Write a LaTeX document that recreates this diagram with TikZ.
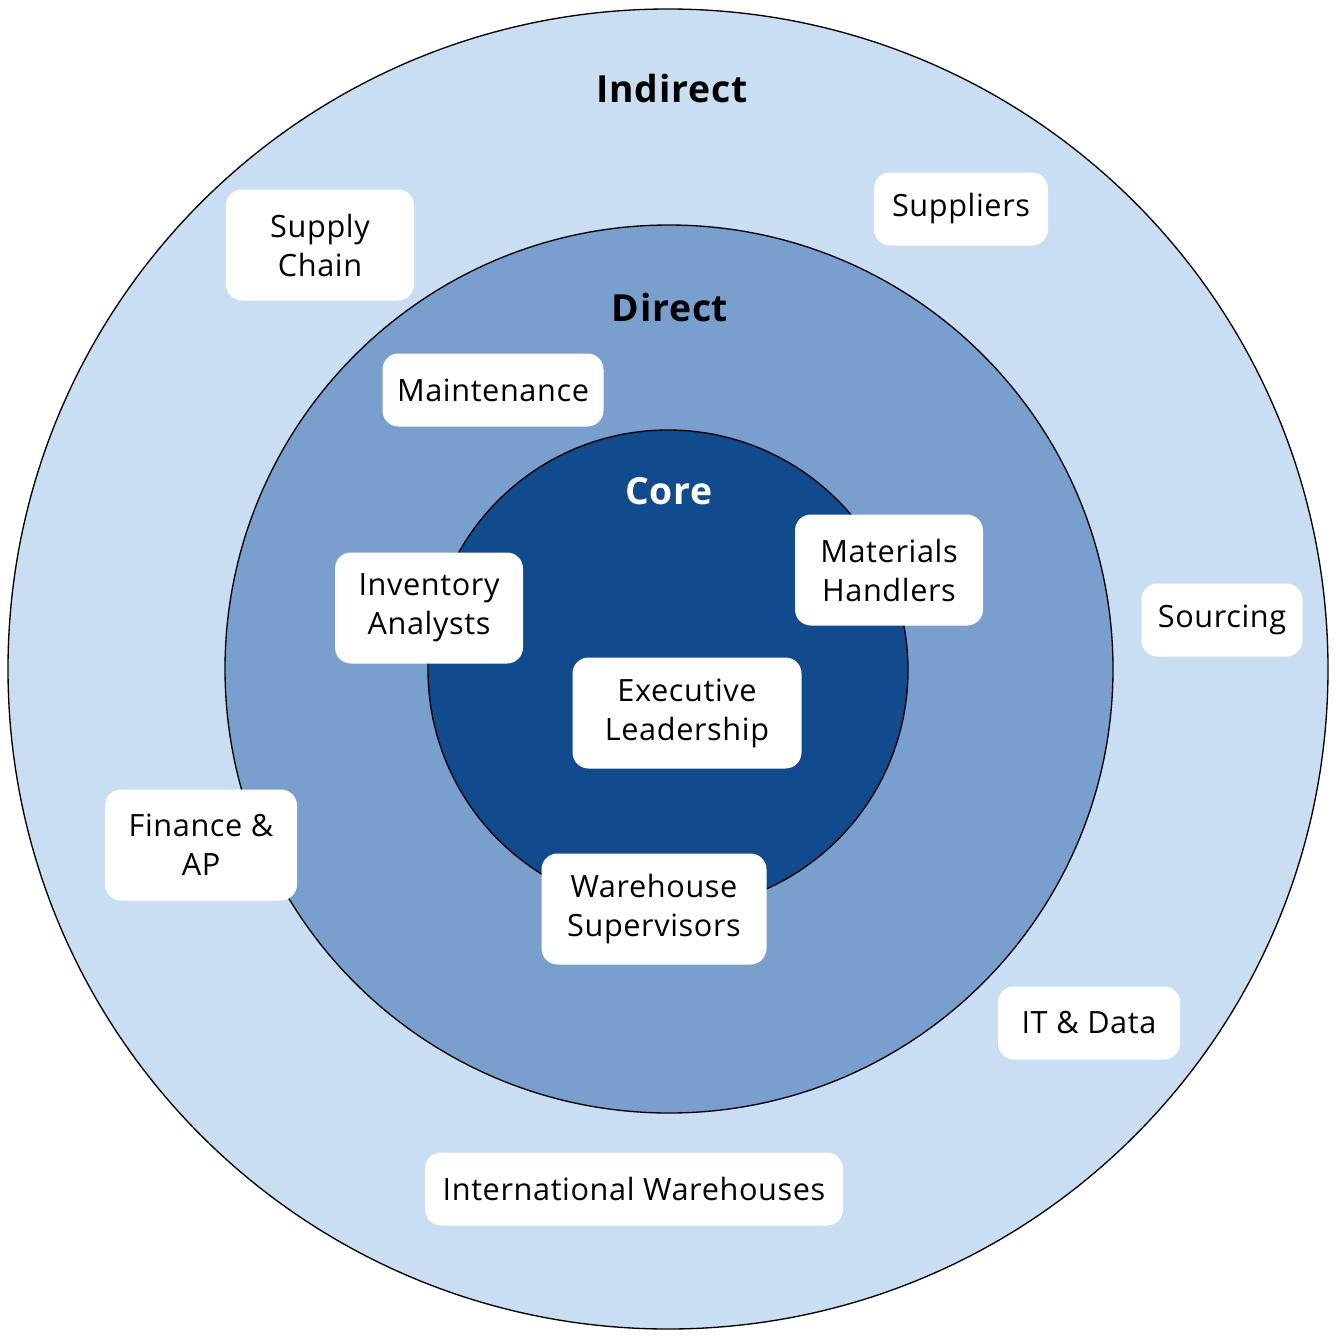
\documentclass[tikz,border=0pt]{standalone}
\usepackage{fontspec}
\setmainfont[LetterSpace=2]{Open Sans}
\usepackage{xcolor}
\usepackage{tikz}
\definecolor{ringout}{RGB}{201,221,243}
\definecolor{ringmid}{RGB}{120,159,205}
\definecolor{ringcore}{RGB}{17,74,141}
\tikzstyle{group} = [draw=none, rounded corners=12pt, fill=white, align=center,
  inner sep=0pt, minimum height=54.75pt,
  font=\fontsize{23}{29.25}\selectfont]
\tikzstyle{tall} = [minimum height=83.25pt]
\tikzstyle{ringtitle} = [font=\fontsize{28}{34}\selectfont\bfseries]

\begin{document}
\begin{tikzpicture}[x=0.75pt, y=-0.75pt]
\useasboundingbox (0,0) rectangle (1337,1339);
% rings
\fill[ringout] (668,669) circle (495pt);
\draw[line width=1pt] (668,669) circle (495pt);
\fill[ringmid] (669,669) circle (333pt);
\draw[line width=1pt] (669,669) circle (333pt);
\fill[ringcore] (668,670) circle (180pt);
\draw[line width=1pt] (668,670) circle (180pt);
%
\node[ringtitle] (indirect) at (672,88) {Indirect};
\node[ringtitle] (direct) at (670,307) {Direct};
\node[ringtitle, text=white] (core) at (669,491) {Core};
%
\node[group, tall, minimum width=141pt] (supplychain) at (320,245) {Supply\\Chain};
\node[group, minimum width=130.5pt] (suppliers) at (961,209) {Suppliers};
\node[group, minimum width=120.75pt] (sourcing) at (1222,620) {Sourcing};
\node[group, tall, minimum width=144pt] (finance) at (201,845) {Finance \&\\AP};
\node[group, minimum width=136.5pt] (itdata) at (1089,1023) {IT \& Data};
\node[group, minimum width=313.5pt] (intlwh) at (634,1189) {International Warehouses};
%
\node[group, minimum width=165.75pt] (maintenance) at (493,390) {Maintenance};
\node[group, tall, minimum width=141pt] (inventory) at (429,608) {Inventory\\Analysts};
\node[group, tall, minimum width=141pt] (materials) at (889,570) {Materials\\Handlers};
\node[group, tall, minimum width=168.75pt] (whsup) at (654,909) {Warehouse\\Supervisors};
%
\node[group, tall, minimum width=171.75pt] (exec) at (687,713) {Executive\\Leadership};
\end{tikzpicture}
\end{document}
